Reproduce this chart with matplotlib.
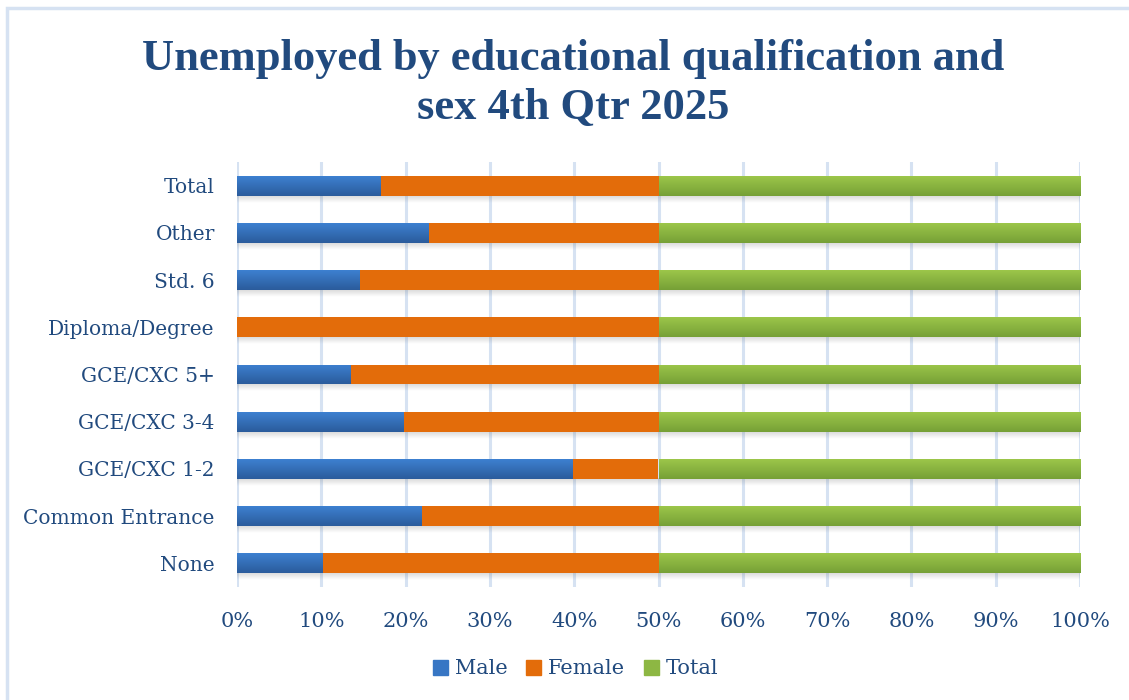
import matplotlib
matplotlib.use("Agg")
import matplotlib.pyplot as plt
import numpy as np
from matplotlib.patches import Rectangle

categories = ["None", "Common Entrance", "GCE/CXC 1-2", "GCE/CXC 3-4", "GCE/CXC 5+",
              "Diploma/Degree", "Std. 6", "Other", "Total"]
male = [10.2, 21.9, 39.8, 19.8, 13.5, 0.0, 14.5, 22.7, 17.0]
female = [39.8, 28.1, 10.2, 30.2, 36.5, 50.0, 35.5, 27.3, 33.0]
total = [50.0, 50.0, 50.0, 50.0, 50.0, 50.0, 50.0, 50.0, 50.0]
series_names = ["Male", "Female", "Total"]
xticks = [0, 10, 20, 30, 40, 50, 60, 70, 80, 90, 100]

TEXT = "#214A7E"
GRID = "#D6E2F2"
FLAT = ["#3776C4", "#E36C0A", "#8DB743"]
GRAD = [("#3D80D0", "#2B5C9C"), None, ("#9CC64A", "#76A036")]

plt.rcParams['font.family'] = ['DejaVu Serif']

fig = plt.figure(figsize=(11.29, 7.0), dpi=100)
ax = fig.add_axes([237/1129, 1-587/700, (1080-237)/1129, (587-162)/700])

y = np.arange(len(categories))
h = 0.42
series = [male, female, total]
left = np.zeros(len(categories))
containers = []
for i, vals in enumerate(series):
    c = ax.barh(y, vals, left=left, height=h, color=FLAT[i], label=series_names[i], zorder=3)
    containers.append(c)
    left = left + np.array(vals)

# shadows under each row
for j in range(len(categories)):
    p0 = containers[0].patches[j]
    yb = p0.get_y()
    xmax = left[j]
    n = 40
    a = np.linspace(0.28, 0.0, n)
    img = np.zeros((n, 2, 4))
    img[..., :3] = 0.45
    img[..., 3] = a[:, None]
    ax.imshow(img, extent=(0, xmax, yb - 0.15, yb), origin='upper', aspect='auto',
              zorder=2, interpolation='bilinear')

# gradients
for i, c in enumerate(containers):
    if GRAD[i] is None:
        continue
    top = np.array(matplotlib.colors.to_rgb(GRAD[i][0]))
    bot = np.array(matplotlib.colors.to_rgb(GRAD[i][1]))
    n = 30
    t = np.linspace(0, 1, n)[:, None]
    col = top * (1 - t) + bot * t
    img = np.repeat(col[:, None, :], 2, axis=1)
    for p in c.patches:
        if p.get_width() <= 0:
            continue
        x0, y0, w, hh = p.get_x(), p.get_y(), p.get_width(), p.get_height()
        im = ax.imshow(img, extent=(x0, x0 + w, y0, y0 + hh), origin='upper',
                       aspect='auto', zorder=4, interpolation='bilinear')
        im.set_clip_path(p)

ax.set_xlim(0, 100)
ax.set_ylim(-0.5, len(categories) - 0.5)
ax.set_xticks(xticks)
ax.set_xticklabels([f"{v}%" for v in xticks])
ax.set_yticks(y)
ax.set_yticklabels(categories)
ax.tick_params(axis='both', length=0, labelsize=15, colors=TEXT)
ax.tick_params(axis='x', pad=18)
ax.tick_params(axis='y', pad=16, labelsize=14.5)
for s in ax.spines.values():
    s.set_visible(False)
ax.grid(axis='x', color=GRID, linewidth=2.2, zorder=0)
ax.set_axisbelow(True)

tfont = dict(ha='center', va='baseline', fontsize=32, fontweight='bold', color=TEXT,
             family=['Liberation Serif'])
fig.text(0.508, 1 - 70/700, "Unemployed by educational qualification and", **tfont)
fig.text(0.508, 1 - 119/700, "sex 4th Qtr 2025", **tfont)

handles = [Rectangle((0, 0), 1, 1, color=FLAT[i]) for i in range(3)]
fig.legend(handles, series_names, loc='center', bbox_to_anchor=(0.51, 1 - 669/700),
           ncol=3, frameon=False, fontsize=15, handlelength=0.7, handleheight=0.7,
           handletextpad=0.35, columnspacing=0.9, labelcolor=TEXT)

fig.patches.append(Rectangle((7/1129, -0.05), 1.2, 1 - 8/700 + 0.05, transform=fig.transFigure,
                             fill=False, edgecolor=GRID, linewidth=2.5, zorder=0))

fig.savefig("out.png", dpi=100)
